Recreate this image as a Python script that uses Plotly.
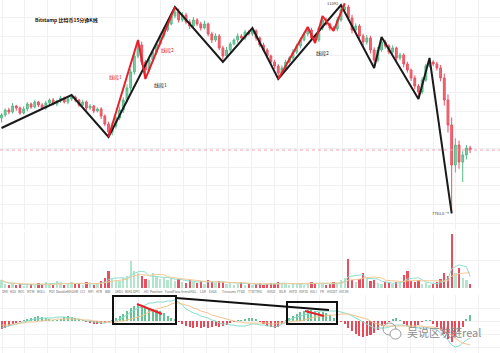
import plotly.graph_objects as go
import pandas as pd

# ---------------- data ----------------
closes = [10398, 10532, 10478, 10639, 10586, 10452, 10559, 10693, 10612, 10746,
          10666, 10586, 10720, 10800, 10693, 10773, 10854, 10746, 10827, 10880,
          10800, 10666, 10746, 10586, 10639, 10505, 10559, 10371, 10157, 9942,
          10103, 10318, 10532, 10800, 11122, 11550, 11979, 12274, 11818, 11604,
          11872, 12086, 12301, 12515, 12676, 12837, 13051, 13158, 12944, 13078,
          12890, 12783, 12944, 12837, 12730, 12837, 12569, 12408, 12515, 12194,
          11979, 12140, 12301, 12408, 12515, 12462, 12622, 12569, 12649, 12462,
          12274, 12140, 11979, 11818, 11711, 11524, 11658, 11818, 11926, 12086,
          12247, 12408, 12569, 12676, 12462, 12408, 12730, 12944, 12837, 12730,
          12703, 12944, 13212, 13292, 12998, 12676, 12783, 12515, 12354, 12462,
          12140, 11872, 12140, 12354, 12247, 12086, 12194, 11926, 12006, 11765,
          11604, 11390, 11175, 11014, 11336, 11711, 11818, 11765, 11658, 11390,
          10800, 10130, 9058, 9594, 9138, 9326, 9514, 9460]
first_open = 10318
upper_wick = [50, 40, 60, 80, 30, 40, 70, 50, 40, 60,
              30, 50, 60, 40, 50, 30, 60, 40, 50, 54,
              40, 30, 60, 40, 50, 30, 40, 50, 40, 60,
              80, 60, 90, 70, 100, 80, 120, 134, 90, 60,
              70, 50, 60, 40, 80, 60, 70, 134, 90, 80,
              60, 70, 80, 50, 60, 90, 40, 60, 70, 50,
              60, 80, 50, 40, 70, 50, 60, 40, 81, 50,
              40, 60, 50, 40, 60, 50, 70, 60, 50, 80,
              60, 70, 50, 80, 60, 70, 50, 107, 60, 40,
              50, 80, 134, 100, 60, 90, 70, 50, 60, 80,
              60, 70, 80, 134, 60, 50, 70, 40, 60, 50,
              60, 40, 70, 50, 80, 60, 108, 50, 60, 80,
              120, 150, 200, 180, 120, 100, 80, 60]
lower_wick = [120, 50, 60, 40, 70, 50, 40, 60, 50, 40,
              60, 40, 50, 70, 40, 60, 50, 40, 60, 50,
              60, 50, 40, 70, 50, 60, 40, 80, 60, 134,
              90, 70, 60, 80, 60, 90, 70, 60, 80, 241,
              60, 50, 70, 40, 60, 50, 40, 60, 70, 50,
              60, 80, 50, 60, 70, 40, 60, 80, 50, 60,
              161, 50, 60, 40, 70, 50, 60, 40, 50, 70,
              60, 50, 70, 60, 80, 161, 60, 50, 40, 60,
              50, 60, 40, 60, 70, 80, 50, 60, 40, 70,
              53, 60, 50, 70, 80, 90, 60, 80, 100, 70,
              90, 214, 60, 50, 70, 60, 50, 80, 60, 90,
              70, 80, 90, 187, 60, 50, 40, 60, 70, 90,
              150, 200, 1295, 200, 180, 536, 120, 80]
volumes = [400, 200, 150, 250, 150, 200, 100, 150, 200, 150,
           250, 150, 300, 200, 150, 350, 250, 150, 200, 300,
           250, 200, 150, 300, 200, 150, 250, 350, 500, 850,
           450, 400, 350, 500, 600, 1350, 850, 750, 600, 450,
           400, 750, 550, 450, 500, 400, 500, 350, 450, 300,
           250, 400, 300, 250, 350, 200, 400, 300, 250, 350,
           300, 200, 250, 150, 200, 300, 150, 200, 150, 200,
           250, 150, 200, 250, 200, 300, 250, 200, 150, 200,
           250, 200, 150, 250, 300, 200, 250, 200, 150, 200,
           300, 250, 400, 500, 1450, 400, 300, 450, 750, 500,
           350, 400, 250, 200, 300, 250, 200, 300, 250, 650,
           850, 350, 300, 400, 200, 250, 150, 200, 300, 450,
           750, 600, 2700, 750, 1000, 500, 400, 200]
macd_hist = [-8, -7, -5, -3, -2, -1, 1, 2, 3, 4,
             5, 4, 3, 2, 1, 1, 2, 4, 5, 4,
             3, 2, 1, -1, -2, -3, -3, -3, -2, -1,
             1, 3, 5, 7, 10, 13, 15, 16, 14, 13,
             12, 12, 11, 10, 8, 5, 3, 2, -1, -3,
             -5, -6, -7, -6, -7, -6, -7, -6, -5, -6,
             -5, -4, -2, -1, 1, 1, 2, 3, 3, 2,
             -1, -3, -5, -6, -7, -6, -3, 1, 3, 5,
             7, 9, 10, 11, 11, 10, 9, 9, 8, 6,
             3, 2, -1, -3, -7, -10, -13, -15, -16, -15,
             -14, -12, -9, -5, -3, -1, 2, 3, 1, -3,
             -5, -7, -6, -4, -1, 1, 1, -3, -6, -9,
             -13, -18, -21, -15, -10, -6, 2, 6]
macd_dif = [-7, -6, -5, -4, -3, -2, -1, 0, 1, 2,
            2, 3, 3, 3, 3, 4, 4, 4, 3, 3,
            2, 2, 1, 0, 0, -1, -1, -2, -2, -1,
            -1, 0, 2, 4, 6, 9, 11, 13, 14, 16,
            18, 18, 19, 19, 19, 20, 20, 21, 19, 16,
            12, 10, 8, 7, 5, 4, 3, 1, 0, -2,
            -3, -3, -4, -4, -5, -5, -5, -4, -3, -3,
            -4, -4, -5, -5, -6, -5, -3, -1, 1, 3,
            4, 5, 6, 7, 8, 9, 10, 10, 10, 10,
            10, 10, 9, 8, 7, 5, 3, 1, -1, -3,
            -5, -7, -7, -7, -7, -6, -5, -4, -4, -4,
            -5, -6, -6, -7, -7, -7, -7, -8, -9, -12,
            -15, -19, -24, -26, -25, -22, -19, -17]
macd_dea = [-4, -4, -4, -3, -3, -2, -2, -1, -1, -1,
            0, 0, 1, 1, 1, 2, 2, 2, 2, 2,
            2, 2, 1, 1, 1, 0, 0, -1, -1, -1,
            -1, -1, 0, 0, 1, 2, 3, 4, 5, 7,
            9, 10, 12, 13, 14, 15, 17, 18, 18, 17,
            16, 15, 13, 12, 10, 9, 8, 6, 5, 4,
            3, 2, 1, 0, -1, -1, -2, -2, -2, -2,
            -2, -2, -2, -3, -3, -2, -2, -2, -1, 0,
            0, 0, 1, 2, 3, 4, 4, 5, 5, 6,
            6, 6, 7, 7, 7, 6, 5, 4, 3, 2,
            0, -2, -3, -4, -5, -5, -5, -5, -5, -5,
            -5, -5, -5, -5, -5, -6, -6, -6, -7, -8,
            -10, -12, -14, -17, -20, -22, -23, -24]

# hand-drawn zigzag segments (candle index, price)
black_idx = [0, 19, 29, 47, 60, 68, 75, 92, 101, 103, 113, 116, 122]
black_price = [10050, 10934, 9808, 13292, 11818, 12730, 11363, 13346, 11658, 12488, 10827, 11926, 7763]
red1_idx = [29, 37, 39, 47]
red1_price = [9808, 12408, 11363, 13292]
red2_idx = [75, 83, 85, 87, 90, 93]
red2_price = [11363, 12756, 12328, 13051, 12650, 13392]

title_text = "Bitstamp 比特币15分钟K线"
red_labels = ["线段1", "线段2"]
red_label_idx = [31, 45]
red_label_price = [11420, 12140]
black_labels = ["线段1", "线段2"]
black_label_idx = [43, 87]
black_label_price = [11200, 12060]

tab_labels = ["DMI", "KDJ", "ROC", "MTM", "BOLL", "PSY", "DoubleMA", "SAR", "CCI", "MFI",
              "ATR", "BBI", "SKDJ", "BIAS", "DPO", "AO", "Position", "FundFlow",
              "ArmsEASL", "LSR", "EASE", "Trixsums", "FTSD", "TTS", "TTMU", "AVGD",
              "WLR", "AVFD", "AVFDI", "AVLI", "FR", "AVGDT", "AVCMI"]
tab_px = [0, 8, 16, 25, 35, 47, 54, 70, 78, 86, 94, 103, 113, 123, 131, 142, 148,
          163, 179, 198, 207, 220, 235, 246, 251, 265, 277, 287, 297, 308, 318, 325, 337]

watermark = "吴说区块链real"

# ---------------- derived ----------------
N = len(closes)
xi = list(range(N))
opens = [first_open] + closes[:-1]
highs = [max(o, c) + u for o, c, u in zip(opens, closes, upper_wick)]
lows = [min(o, c) - l for o, c, l in zip(opens, closes, lower_wick)]
vol_s = pd.Series(volumes)
vol_ma5 = vol_s.rolling(5, min_periods=1).mean().tolist()
vol_ma10 = vol_s.rolling(10, min_periods=1).mean().tolist()

W, H = 500, 353

def px(xp, yp):
    return xp / W, 1 - yp / H

fig = go.Figure()

fig.add_trace(go.Candlestick(
    x=xi, open=opens, high=highs, low=lows, close=closes,
    increasing=dict(line=dict(color="#58b989", width=1), fillcolor="#7fd0a8"),
    decreasing=dict(line=dict(color="#ea5262", width=1), fillcolor="#f06a78"),
    whiskerwidth=0, xaxis="x", yaxis="y", hoverinfo="skip", showlegend=False))

fig.add_trace(go.Scatter(x=black_idx, y=black_price, mode="lines",
                         line=dict(color="#1b1b1b", width=2), xaxis="x", yaxis="y", showlegend=False))
fig.add_trace(go.Scatter(x=red1_idx, y=red1_price, mode="lines",
                         line=dict(color="#e8202c", width=2), xaxis="x", yaxis="y", showlegend=False))
fig.add_trace(go.Scatter(x=red2_idx, y=red2_price, mode="lines",
                         line=dict(color="#e8202c", width=2), xaxis="x", yaxis="y", showlegend=False))

vol_colors = ["#b3e4cd" if c >= o else "#e8505f" for o, c in zip(opens, closes)]
fig.add_trace(go.Bar(x=xi, y=volumes, marker=dict(color=vol_colors, line=dict(width=0)),
                     width=0.62, xaxis="x2", yaxis="y2", showlegend=False))
fig.add_trace(go.Scatter(x=xi, y=vol_ma5, mode="lines", line=dict(color="#8ee0cf", width=1),
                         xaxis="x2", yaxis="y2", showlegend=False))
fig.add_trace(go.Scatter(x=xi, y=vol_ma10, mode="lines", line=dict(color="#f5c995", width=1),
                         xaxis="x2", yaxis="y2", showlegend=False))

hist_colors = ["#66c395" if v >= 0 else "#e84a5a" for v in macd_hist]
fig.add_trace(go.Bar(x=xi, y=macd_hist, marker=dict(color=hist_colors, line=dict(width=0)),
                     width=0.55, xaxis="x3", yaxis="y3", showlegend=False))
fig.add_trace(go.Scatter(x=xi, y=macd_dif, mode="lines", line=dict(color="#86dccb", width=1),
                         xaxis="x3", yaxis="y3", showlegend=False))
fig.add_trace(go.Scatter(x=xi, y=macd_dea, mode="lines", line=dict(color="#f3c48e", width=1),
                         xaxis="x3", yaxis="y3", showlegend=False))

xr = [-0.41, 135.1]
grid = "#f1f1f1"
xcommon = dict(range=xr, showticklabels=False, showgrid=True, gridcolor=grid, gridwidth=1,
               tickmode="linear", tick0=0.14, dtick=6.15, zeroline=False, showline=False,
               ticks="", fixedrange=True)

fig.update_layout(
    width=W, height=H, margin=dict(l=0, r=0, t=0, b=0),
    paper_bgcolor="white", plot_bgcolor="white", bargap=0,
    showlegend=False,
    xaxis=dict(domain=[0, 1], anchor="y", rangeslider=dict(visible=False), **xcommon),
    yaxis=dict(domain=[1 - 230 / H, 1], range=[7316, 13480], showticklabels=False,
               showgrid=True, gridcolor=grid, tickmode="linear", tick0=0, dtick=500,
               zeroline=False),
    xaxis2=dict(domain=[0, 1], anchor="y2", **xcommon),
    yaxis2=dict(domain=[1 - 288 / H, 1 - 232 / H], range=[0, 2800], showticklabels=False,
                showgrid=True, gridcolor=grid, tickmode="linear", tick0=0, dtick=1400,
                zeroline=False),
    xaxis3=dict(domain=[0, 1], anchor="y3", **xcommon),
    yaxis3=dict(domain=[0, 1 - 295 / H], range=[-32, 26], showticklabels=False,
                showgrid=True, gridcolor=grid, tickmode="linear", tick0=0, dtick=13,
                zeroline=False),
    font=dict(family="Noto Sans CJK SC, Noto Sans, sans-serif"),
)

ann = []
tx, ty = px(33, 20)
ann.append(dict(text="<b>" + title_text + "</b>", x=tx, y=ty, xref="paper", yref="paper",
                xanchor="left", yanchor="middle", showarrow=False,
                font=dict(size=5, color="#111")))
for t, i, p in zip(red_labels, red_label_idx, red_label_price):
    ann.append(dict(text=t, x=i, y=p, xref="x", yref="y", showarrow=False,
                    font=dict(size=5, color="#e8202c")))
for t, i, p in zip(black_labels, black_label_idx, black_label_price):
    ann.append(dict(text=t, x=i, y=p, xref="x", yref="y", showarrow=False,
                    font=dict(size=5, color="#222")))
imax = highs.index(max(highs))
imin = lows.index(min(lows))
ann.append(dict(text=f"{max(highs):.0f}", x=imax - 1, y=max(highs), xref="x", yref="y",
                xanchor="right", yanchor="middle", showarrow=False,
                font=dict(size=4, color="#444")))
ann.append(dict(text=f"{min(lows):.1f} →", x=imin - 0.2, y=min(lows), xref="x", yref="y",
                xanchor="right", yanchor="middle", showarrow=False,
                font=dict(size=4, color="#444")))
ty = 1 - 291 / H
for t, xp in zip(tab_labels, tab_px):
    ann.append(dict(text=t, x=xp / W, y=ty, xref="paper", yref="paper", xanchor="left",
                    yanchor="middle", showarrow=False, font=dict(size=3.3, color="#666")))
wx, wy = px(405, 332)
ann.append(dict(text=watermark, x=wx, y=wy, xref="paper", yref="paper", xanchor="left",
                yanchor="middle", showarrow=False,
                font=dict(size=11, color="#8c8c8c")))
fig.update_layout(annotations=ann)

shapes = []
shapes.append(dict(type="line", xref="paper", x0=0, x1=1, yref="y", y0=closes[-1], y1=closes[-1],
                   line=dict(color="#f3a1aa", width=1, dash="dot")))
def rect(x0, y0, x1, y1):
    a, b = px(x0, y0)
    c, d = px(x1, y1)
    return dict(type="rect", xref="paper", yref="paper", x0=a, y0=d, x1=c, y1=b,
                line=dict(color="#111", width=2))
def seg(x0, y0, x1, y1, color, w):
    a, b = px(x0, y0)
    c, d = px(x1, y1)
    return dict(type="line", xref="paper", yref="paper", x0=a, y0=b, x1=c, y1=d,
                line=dict(color=color, width=w))
shapes.append(rect(113, 296, 176, 324))
shapes.append(rect(287, 302, 337, 324))
shapes.append(seg(176, 298, 329, 310, "#111", 2))
shapes.append(seg(137, 304, 162, 314, "#e8202c", 2))
shapes.append(seg(305, 311, 324, 316, "#e8202c", 2))
# wechat-like logo outline
a, b = px(383, 323); c, d = px(396, 335)
shapes.append(dict(type="circle", xref="paper", yref="paper", x0=a, y0=d, x1=c, y1=b,
                   line=dict(color="#9a9a9a", width=1)))
a, b = px(390, 329); c, d = px(401, 339)
shapes.append(dict(type="circle", xref="paper", yref="paper", x0=a, y0=d, x1=c, y1=b,
                   line=dict(color="#9a9a9a", width=1), fillcolor="white"))
fig.update_layout(shapes=shapes)

fig.write_html("out.html")
